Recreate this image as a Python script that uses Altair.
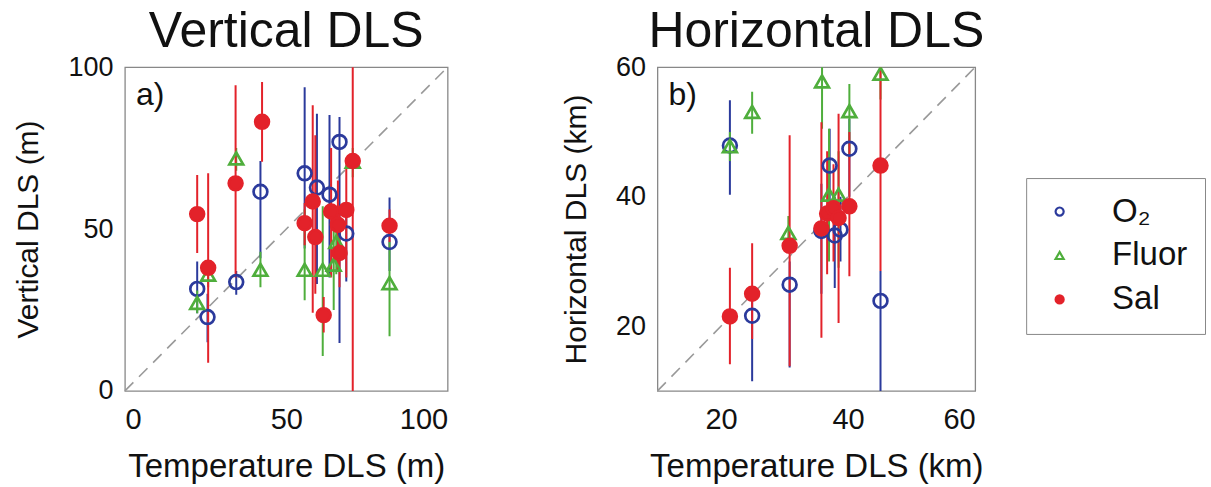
import altair as alt
import pandas as pd

# ---------------- data ----------------
series_names = ["O₂", "Fluor", "Sal"]
colors = ["#2b3a9c", "#4fae3c", "#e3222a"]
shapes = ["circle", "triangle-up", "circle"]
fills = ["transparent", "transparent", "#e3222a"]

# Panel a) Vertical DLS (m)
a_o2_x  = [22.4, 25.6, 34.5, 42.0, 55.7, 59.5, 63.4, 66.5, 68.6, 82.0]
a_o2_y  = [31.5, 22.8, 33.6, 61.5, 67.2, 62.8, 60.6, 76.9, 48.6, 46.0]
a_o2_lo = [24.0, 15.0, 29.7, 41.0, 44.0, 33.0, 35.0, 14.8, 33.8, 37.0]
a_o2_hi = [40.0, 30.0, 37.0, 71.0, 93.8, 85.6, 85.2, 84.6, 57.0, 59.7]

a_fl_x  = [22.4, 25.8, 34.5, 42.0, 55.7, 61.3, 64.7, 65.5, 70.6, 82.0]
a_fl_y  = [27.2, 35.9, 71.8, 37.4, 37.4, 37.4, 39.0, 46.0, 70.8, 33.3]
a_fl_lo = [24.0, 32.0, 68.0, 32.0, 28.0, 10.8, 25.0, 36.0, 66.0, 16.9]
a_fl_hi = [31.0, 39.0, 75.0, 43.0, 56.0, 57.0, 52.0, 56.0, 75.0, 46.0]

a_sa_x  = [22.4, 25.8, 34.3, 42.5, 55.7, 58.2, 59.0, 61.6, 63.9, 66.0, 66.5, 68.6, 70.6, 82.0]
a_sa_y  = [54.6, 38.0, 64.1, 83.1, 51.8, 58.5, 47.5, 23.4, 55.4, 51.3, 42.6, 55.9, 71.0, 51.0]
a_sa_lo = [42.6, 8.7, 35.0, 70.8, 45.0, 24.1, 30.0, 18.0, 35.0, 37.0, 32.0, 35.0, -20.0, 46.0]
a_sa_hi = [66.7, 67.2, 94.4, 95.4, 58.0, 88.2, 79.0, 29.0, 75.0, 65.0, 55.0, 70.0, 120.0, 56.0]

# Panel b) Horizontal DLS (km)
b_o2_x  = [21.4, 24.9, 30.8, 35.8, 37.1, 37.9, 38.8, 40.2, 45.1]
b_o2_y  = [47.9, 21.6, 26.4, 34.7, 44.8, 34.0, 34.9, 47.4, 23.9]
b_o2_lo = [40.3, 11.5, 13.6, 25.0, 38.0, 25.9, 30.0, 40.0, 0.0]
b_o2_hi = [54.9, 26.0, 30.0, 42.0, 50.5, 40.0, 40.0, 52.0, 28.5]

b_fl_x  = [21.4, 24.9, 30.6, 35.9, 37.0, 38.5, 40.2, 45.1]
b_fl_y  = [47.8, 53.1, 34.4, 57.8, 40.3, 40.3, 53.2, 59.0]
b_fl_lo = [45.5, 49.7, 32.0, 50.5, 30.0, 29.0, 46.0, 55.0]
b_fl_hi = [50.0, 56.2, 37.0, 60.5, 50.5, 47.0, 57.4, 62.0]

b_sa_x  = [21.4, 24.9, 30.8, 35.8, 36.7, 37.7, 38.5, 40.2, 45.1]
b_sa_y  = [21.5, 25.0, 32.4, 35.1, 37.4, 38.2, 36.7, 38.5, 44.8]
b_sa_lo = [14.1, 18.0, 13.8, 18.2, 28.0, 30.0, 20.5, 27.7, 28.5]
b_sa_hi = [29.0, 32.8, 49.5, 51.5, 47.0, 45.0, 52.8, 50.0, 62.0]

diag_a = [0, 100]
diag_b = [10, 60]


def frame(groups):
    rows = []
    for order, (name, xs, ys, los, his) in enumerate(groups):
        for x, y, lo, hi in zip(xs, ys, los, his):
            rows.append(dict(series=name, order=order, x=x, y=y, lo=lo, hi=hi))
    return pd.DataFrame(rows)


df_a = frame([
    (series_names[0], a_o2_x, a_o2_y, a_o2_lo, a_o2_hi),
    (series_names[1], a_fl_x, a_fl_y, a_fl_lo, a_fl_hi),
    (series_names[2], a_sa_x, a_sa_y, a_sa_lo, a_sa_hi),
])
df_b = frame([
    (series_names[0], b_o2_x, b_o2_y, b_o2_lo, b_o2_hi),
    (series_names[1], b_fl_x, b_fl_y, b_fl_lo, b_fl_hi),
    (series_names[2], b_sa_x, b_sa_y, b_sa_lo, b_sa_hi),
])

FONT = "Liberation Sans"
color_scale = alt.Scale(domain=series_names, range=colors)
shape_scale = alt.Scale(domain=series_names, range=shapes)
fill_scale = alt.Scale(domain=series_names, range=fills)

legend = alt.Legend(
    title=None, orient="none", legendX=902, legendY=111,
    labelFontSize=33, labelFont=FONT, labelColor="#111",
    symbolSize=65, symbolStrokeWidth=2.2, rowPadding=10,
    strokeColor="#888", padding=17, labelOffset=36,
    symbolOffset=0,
)


def panel(df, diag, xdom, ydom, xticks, yticks, title, xtitle, ytitle, tag, w, h):
    xs = alt.Scale(domain=xdom, nice=False, zero=False)
    ys = alt.Scale(domain=ydom, nice=False, zero=False)
    xax = alt.Axis(values=xticks, title=xtitle, labelPadding=15, titlePadding=16,
                   labelFontSize=29, titleFontSize=33,
                   grid=False, ticks=False, domain=False, tickSize=0)
    yax = alt.Axis(values=yticks, title=ytitle, labelPadding=12, titlePadding=24,
                   labelFontSize=27, titleFontSize=30,
                   grid=False, ticks=False, domain=False, tickSize=0)
    ddf = pd.DataFrame({"x": diag, "y": diag})
    diag_layer = alt.Chart(ddf).mark_line(color="#999", strokeDash=[12, 8], strokeWidth=1.6).encode(
        x=alt.X("x:Q", scale=xs, axis=xax), y=alt.Y("y:Q", scale=ys, axis=yax))
    rules = alt.Chart(df).mark_rule(strokeWidth=2, clip=True).encode(
        x=alt.X("x:Q", scale=xs), y=alt.Y("lo:Q", scale=ys), y2="hi:Q",
        color=alt.Color("series:N", scale=color_scale, legend=legend),
        order="order:Q")
    pts = alt.Chart(df).mark_point(size=190, strokeWidth=2.7, opacity=1, clip=True).encode(
        x=alt.X("x:Q", scale=xs), y=alt.Y("y:Q", scale=ys),
        color=alt.Color("series:N", scale=color_scale, legend=legend),
        shape=alt.Shape("series:N", scale=shape_scale, legend=legend),
        fill=alt.Fill("series:N", scale=fill_scale, legend=legend),
        order="order:Q")
    lab = alt.Chart(pd.DataFrame({"t": [tag]})).mark_text(
        align="left", baseline="middle", fontSize=32, font=FONT, color="#111").encode(
        text="t:N", x=alt.value(11), y=alt.value(28))
    return alt.layer(diag_layer, rules, pts, lab).properties(
        width=w, height=h,
        title=alt.TitleParams(title, fontSize=50, font=FONT, fontWeight="normal",
                              color="#111", offset=-4))


left = panel(df_a, diag_a, [0, 100], [0, 100], [0, 50, 100], [0, 50, 100],
             "Vertical DLS", "Temperature DLS (m)", "Vertical DLS (m)", "a)", 323, 324)
right = panel(df_b, diag_b, [10, 60], [10, 60], [20, 40, 60], [20, 40, 60],
              "Horizontal DLS", "Temperature DLS (km)", "Horizontal DLS (km)", "b)", 318, 324)

chart = alt.hconcat(left, right, spacing=109).configure_view(
    stroke="#888", strokeWidth=1.3
).configure_axis(
    labelFont=FONT, titleFont=FONT,
    labelColor="#111", titleColor="#111", titleFontWeight="normal"
).properties(padding={"left": 13, "top": 6, "right": 5, "bottom": 2})

chart.save("out.html", embed_options={"renderer": "svg", "actions": False})
